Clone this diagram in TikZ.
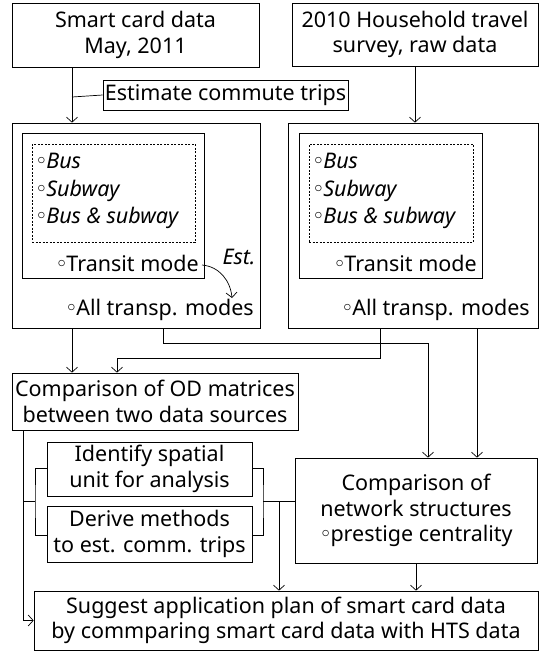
\documentclass[tikz,border=0pt]{standalone}
\usepackage{fontspec}
\setmainfont{Noto Sans}
\newfontfamily\symfont{DejaVu Sans}
\newcommand\modebul{{\symfont ◦}\kern-1.5pt}
\usetikzlibrary{arrows.meta,positioning}

\begin{document}
\begin{tikzpicture}[x=1pt, y=-1pt,
box/.style={draw, line width=0.7pt, align=center, inner sep=0pt, font=\fontsize{21.5}{25.5}\selectfont},
frame/.style={draw, line width=0.7pt, inner sep=0pt},
dashbox/.style={draw, line width=0.6pt, dash pattern=on 2pt off 1.5pt, inner sep=0pt},
txt/.style={inner sep=0pt, align=left, font=\fontsize{21.5}{27.5}\selectfont},
arrow/.style={-{Straight Barb[length=5pt,width=11pt]}, line width=0.7pt},
line/.style={line width=0.7pt}
]
\useasboundingbox (0,0) rectangle (540,651);

% sources
\node[box, minimum width=247pt, minimum height=64pt] (card) at (135.5,35) {Smart card data\\May, 2011};
\node[box, minimum width=246pt, minimum height=63pt] (hts) at (415,34.5) {2010 Household travel\\survey, raw data};
\node[box, minimum width=245pt, minimum height=30pt] (est) at (225.5,95) {Estimate commute trips};

% smart card block
\node[frame, minimum width=248pt, minimum height=205pt] (scBlk) at (136,225.5) {};
\node[frame, minimum width=182pt, minimum height=145pt] (scMode) at (113,205.5) {};
\node[dashbox, minimum width=163pt, minimum height=98pt] (scSub) at (113.5,193) {};
\node[txt, anchor=west] (scList) at (35,191) {\modebul\textit{Bus}\\\modebul\textit{Subway}\\\modebul\textit{Bus \& subway}};
\node[txt, anchor=east] (scTr) at (199,263) {\modebul Transit mode};
\node[txt, anchor=east] (scAll) at (254,310) {\modebul All transp. modes};
\node[txt, anchor=center] (estLbl) at (239,257) {\textit{Est.}};

% household survey block
\node[frame, minimum width=250pt, minimum height=205pt] (htBlk) at (413,225.5) {};
\node[frame, minimum width=183pt, minimum height=145pt] (htMode) at (390.5,205.5) {};
\node[dashbox, minimum width=164pt, minimum height=98pt] (htSub) at (391,193) {};
\node[txt, anchor=west] (htList) at (312,191) {\modebul\textit{Bus}\\\modebul\textit{Subway}\\\modebul\textit{Bus \& subway}};
\node[txt, anchor=east] (htTr) at (477,263) {\modebul Transit mode};
\node[txt, anchor=east] (htAll) at (530,310) {\modebul All transp. modes};

% analysis
\node[box, minimum width=286pt, minimum height=57pt] (od) at (155,401.5) {Comparison of OD matrices\\between two data sources};
\node[box, minimum width=205pt, minimum height=54pt] (unit) at (149.5,469) {Identify spatial\\unit for analysis};
\node[box, minimum width=205pt, minimum height=56pt] (meth) at (149.5,534) {Derive methods\\to est. comm. trips};
\node[box, minimum width=242pt, minimum height=105pt] (net) at (416,510.5) {Comparison of\\network structures\\\modebul prestige centrality};
\node[box, minimum width=504pt, minimum height=59pt] (plan) at (286,620.5) {Suggest application plan of smart card data\\by commparing smart card data with HTS data};

% junctions
\coordinate (jA) at (72,97);
\coordinate (jB) at (380,358);
\coordinate (jB2) at (117,358);
\coordinate (jC) at (163,343);
\coordinate (jC2) at (428,343);
\coordinate (jD) at (477,0);
\coordinate (jE) at (23,501);
\coordinate (brL) at (35,501);
\coordinate (brR) at (263,501);
\coordinate (jF) at (279,501);
\coordinate (estEnd) at (232,298);

\draw[arrow] (jA |- card.south) -- (jA |- scBlk.north);
\draw[line] (jA) -- (est.west);
\draw[arrow] (hts.south) -- (hts.south |- htBlk.north);
\draw[arrow] (scTr.east) ++(3,2) to[out=-5, in=95] (estEnd);

\draw[arrow] (jA |- scBlk.south) -- (jA |- od.north);
\draw[arrow] (jB |- htBlk.south) -- (jB) -- (jB2) -- (jB2 |- od.north);
\draw[arrow] (jC |- scBlk.south) -- (jC) -- (jC2) -- (jC2 |- net.north);
\draw[arrow] (jD |- htBlk.south) -- (jD |- net.north);

% brackets
\draw[line] (jE |- od.south) -- (jE |- plan.west) edge[arrow] (plan.west);
\draw[line] (jE) -- (brL);
\draw[line] (unit.west) ++(0,-1) -| (brL) |- ([yshift=-1pt]meth.west);
\draw[line] (unit.east) ++(0,-1) -| (brR) |- ([yshift=-1pt]meth.east);
\draw[line] (brR) -- (brR -| net.west);
\draw[arrow] (jF) -- (jF |- plan.north);
\draw[arrow] (net.south) -- (net.south |- plan.north);
\end{tikzpicture}
\end{document}
